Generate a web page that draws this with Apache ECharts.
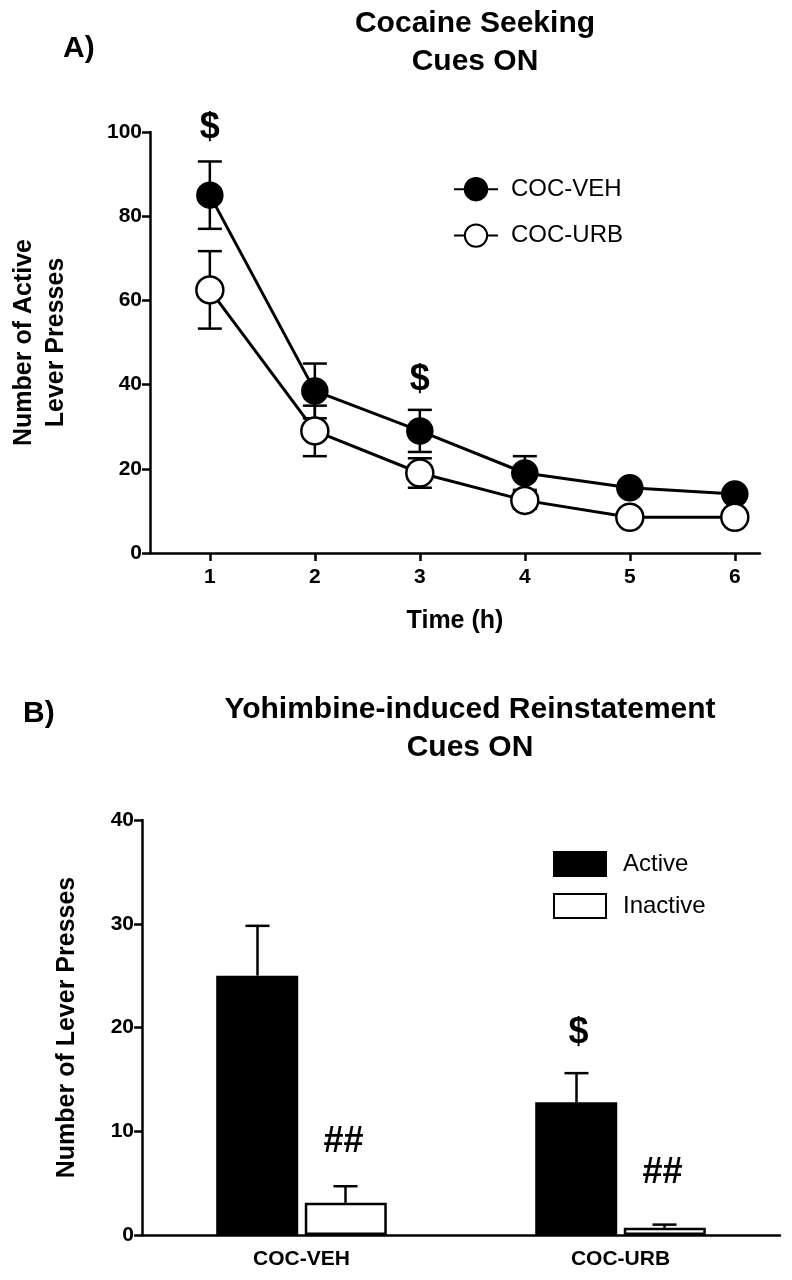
<!DOCTYPE html>
<html><head><meta charset="utf-8">
<script src="https://cdn.jsdelivr.net/npm/echarts@6/dist/echarts.min.js"></script>
<style>body{margin:0}#c{width:792px;height:1280px}</style></head>
<body><div id="c"></div>
<script>
// panel A: cocaine seeking
var hours = [1, 2, 3, 4, 5, 6];
var vehMean = [85, 38.5, 29, 19, 15.5, 14];
var vehSem = [8, 6.5, 5, 4, 1.2, 1];
var urbMean = [62.5, 29, 19, 12.5, 8.5, 8.5];
var urbSem = [9.2, 6, 3.5, 2, 1, 1];
var marksA = [[1, 101, '$'], [3, 41, '$']];

// panel B: yohimbine reinstatement
var groups = ['COC-VEH', 'COC-URB'];
var activeMean = [25, 12.8];
var activeSem = [4.8, 2.8];
var inactiveMean = [3.1, 0.7];
var inactiveSem = [1.6, 0.3];
var marksB = [['COC-URB', 19.5, '$', -42], ['COC-VEH', 9, '##', 42], ['COC-URB', 6, '##', 42]];

var font = 'Liberation Sans, Arial, sans-serif';

function line(x1, y1, x2, y2) {
  return {type: 'line', shape: {x1: x1, y1: y1, x2: x2, y2: y2}, style: {stroke: '#000', lineWidth: 2.5}};
}

function errA(mean, sem) {
  return {
    type: 'custom', xAxisIndex: 0, yAxisIndex: 0, z: 1,
    data: hours.map(function (h, i) { return [h, mean[i], sem[i]]; }),
    renderItem: function (p, api) {
      var x = api.value(0), m = api.value(1), s = api.value(2);
      var top = api.coord([x, m + s]), bot = api.coord([x, m - s]);
      return {type: 'group', children: [
        line(top[0], top[1], bot[0], bot[1]),
        line(top[0] - 12, top[1], top[0] + 12, top[1]),
        line(bot[0] - 12, bot[1], bot[0] + 12, bot[1])
      ]};
    }
  };
}

function errB(mean, sem, offset) {
  return {
    type: 'custom', xAxisIndex: 1, yAxisIndex: 1, z: 1,
    data: groups.map(function (g, i) { return [i, mean[i], sem[i]]; }),
    renderItem: function (p, api) {
      var x = api.value(0), m = api.value(1), s = api.value(2);
      var top = api.coord([x, m + s]), c = api.coord([x, m]);
      var cx = c[0] + offset;
      return {type: 'group', children: [
        line(cx, c[1], cx, top[1]),
        line(cx - 12, top[1], cx + 12, top[1])
      ]};
    }
  };
}

function marks(axis, data, list) {
  return {
    type: 'custom', xAxisIndex: axis, yAxisIndex: axis, z: 5, clip: false,
    data: data,
    renderItem: function (p, api) {
      var c = api.coord([api.value(0), api.value(1)]);
      return {type: 'text', x: c[0] + api.value(2), y: c[1],
        style: {text: list[p.dataIndex][2], fontSize: 36, fontWeight: 'bold', fontFamily: font,
          fill: '#000', align: 'center', verticalAlign: 'middle'}};
    }
  };
}

var axisStyle = {lineStyle: {color: '#000', width: 2.5}};
var labelStyle = {color: '#000', fontSize: 21, fontWeight: 'bold', fontFamily: font};
var titleStyle = {fontSize: 30, fontWeight: 'bold', fontFamily: font, color: '#000', lineHeight: 38};

var option = {
  animation: false,
  backgroundColor: '#fff',
  title: [
    {text: 'Cocaine Seeking\nCues ON', left: 470, top: 0, textAlign: 'center', textStyle: titleStyle},
    {text: 'A)', left: 58, top: 25, textStyle: titleStyle},
    {text: 'Yohimbine-induced Reinstatement\nCues ON', left: 465, top: 686, textAlign: 'center', textStyle: titleStyle},
    {text: 'B)', left: 18, top: 690, textStyle: titleStyle}
  ],
  legend: [
    {data: ['COC-VEH', 'COC-URB'], orient: 'vertical', left: 448, top: 172, itemGap: 22,
      itemWidth: 44, itemHeight: 28, textStyle: {fontSize: 24, fontFamily: font, color: '#000', padding: [0, 0, 0, 8]}},
    {data: ['Active', 'Inactive'], orient: 'vertical', left: 548, top: 846, itemGap: 16,
      itemWidth: 52, itemHeight: 24, icon: 'rect', textStyle: {fontSize: 24, fontFamily: font, color: '#000', padding: [0, 0, 0, 12]}}
  ],
  grid: [
    {left: 148, right: 32, top: 132, bottom: 727},
    {left: 142, right: 12, top: 820, bottom: 45}
  ],
  xAxis: [
    {type: 'value', gridIndex: 0, min: 0.43, max: 6.24, splitLine: {show: false},
      axisLine: axisStyle, axisTick: {length: 8, lineStyle: {width: 2.5}, customValues: hours},
      axisLabel: Object.assign({customValues: hours, margin: 14}, labelStyle),
      name: 'Time (h)', nameLocation: 'middle', nameGap: 56,
      nameTextStyle: {fontSize: 25, fontWeight: 'bold', fontFamily: font, color: '#000'}},
    {type: 'category', gridIndex: 1, data: groups, axisLine: axisStyle,
      axisTick: {show: false},
      axisLabel: Object.assign({margin: 14}, labelStyle)}
  ],
  yAxis: [
    {type: 'value', gridIndex: 0, min: 0, max: 100, interval: 20, splitLine: {show: false},
      axisLine: {show: true, lineStyle: {color: '#000', width: 2.5}},
      axisTick: {show: true, length: 8, lineStyle: {width: 2.5}}, axisLabel: labelStyle,
      name: 'Number of Active\nLever Presses', nameLocation: 'middle', nameGap: 78,
      nameTextStyle: {fontSize: 25, fontWeight: 'bold', fontFamily: font, color: '#000', lineHeight: 32}},
    {type: 'value', gridIndex: 1, min: 0, max: 40, interval: 10, splitLine: {show: false},
      axisLine: {show: true, lineStyle: {color: '#000', width: 2.5}},
      axisTick: {show: true, length: 8, lineStyle: {width: 2.5}}, axisLabel: labelStyle,
      name: 'Number of Lever Presses', nameLocation: 'middle', nameGap: 62,
      nameTextStyle: {fontSize: 25, fontWeight: 'bold', fontFamily: font, color: '#000'}}
  ],
  series: [
    errA(vehMean, vehSem),
    errA(urbMean, urbSem),
    {name: 'COC-VEH', type: 'line', xAxisIndex: 0, yAxisIndex: 0, z: 3,
      data: hours.map(function (h, i) { return [h, vehMean[i]]; }),
      symbol: 'circle', symbolSize: 25, lineStyle: {color: '#000', width: 3},
      itemStyle: {color: '#000', borderColor: '#000', borderWidth: 2.5}},
    {name: 'COC-URB', type: 'line', xAxisIndex: 0, yAxisIndex: 0, z: 4,
      data: hours.map(function (h, i) { return [h, urbMean[i]]; }),
      symbol: 'circle', symbolSize: 27, showAllSymbol: true, lineStyle: {color: '#000', width: 3},
      itemStyle: {color: '#fff', borderColor: '#000', borderWidth: 2.5}},
    marks(0, marksA.map(function (m) { return [m[0], m[1], 0]; }), marksA),
    {name: 'Active', type: 'bar', xAxisIndex: 1, yAxisIndex: 1, data: activeMean, barWidth: 82, barGap: '8%',
      itemStyle: {color: '#000', borderColor: '#000', borderWidth: 2}},
    {name: 'Inactive', type: 'bar', xAxisIndex: 1, yAxisIndex: 1, data: inactiveMean, barWidth: 82,
      itemStyle: {color: '#fff', borderColor: '#000', borderWidth: 2.5}},
    errB(activeMean, activeSem, -44),
    errB(inactiveMean, inactiveSem, 44),
    marks(1, marksB.map(function (m) { return [groups.indexOf(m[0]), m[1], m[3]]; }), marksB)
  ]
};
echarts.init(document.getElementById('c')).setOption(option);
</script></body></html>
